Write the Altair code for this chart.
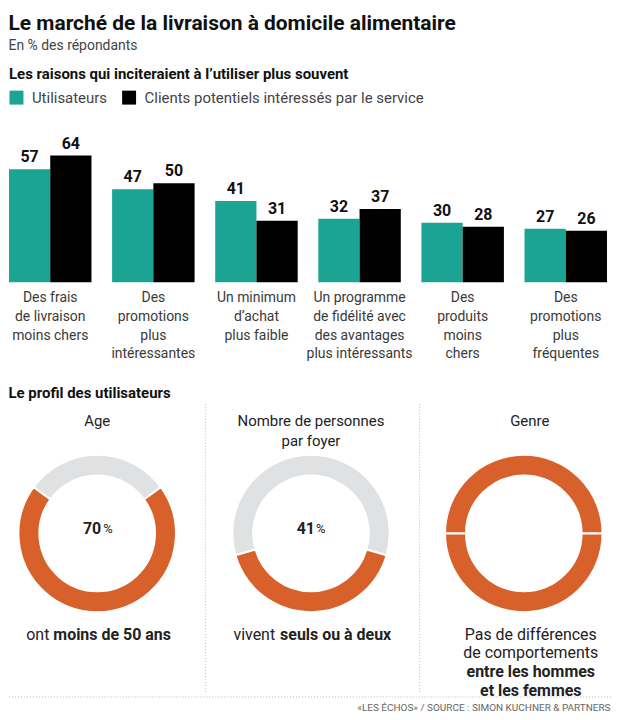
import math
import altair as alt
import pandas as pd

FONT = "Roboto"
TEAL = "#1ba394"
ORANGE = "#d8602a"
GRAY = "#dfe1e3"

# ---- data: bar chart ----
categories = [
    "Des frais|de livraison|moins chers",
    "Des|promotions|plus|intéressantes",
    "Un minimum|d’achat|plus faible",
    "Un programme|de fidélité avec|des avantages|plus intéressants",
    "Des|produits|moins|chers",
    "Des|promotions|plus|fréquentes",
]
series = ["Utilisateurs", "Clients potentiels intéressés par le service"]
users = [57, 47, 41, 32, 30, 27]
potential = [64, 50, 31, 37, 28, 26]

# ---- data: donuts ----
age_parts = ["autres", "moins de 50 ans"]
age_values = [30, 70]
foyer_parts = ["autres", "seuls ou à deux"]
foyer_values = [59, 41]
genre_parts = ["hommes", "femmes"]
genre_values = [50, 50]

panel_titles = ["Age", "Nombre de personnes|par foyer", "Genre"]
center_labels = [("70", "%"), ("41", "%")]
captions = [("ont", "moins de 50 ans"), ("vivent", "seuls ou à deux")]
genre_caption_regular = ["Pas de différences", "de comportements"]
genre_caption_bold = ["entre les hommes", "et les femmes"]
source_text = "«LES ÉCHOS» / SOURCE : SIMON KUCHNER & PARTNERS"

rows = []
for c, u, p in zip(categories, users, potential):
    rows.append({"cat": c, "series": series[0], "value": u})
    rows.append({"cat": c, "series": series[1], "value": p})
bar_df = pd.DataFrame(rows)

base = alt.Chart(bar_df).encode(
    x=alt.X(
        "cat:N",
        sort=categories,
        scale=alt.Scale(paddingInner=0.2, paddingOuter=0),
        axis=alt.Axis(
            title=None, labelExpr="split(datum.label, '|')", ticks=False, domain=False,
            labelAngle=0, labelFontSize=14, labelLineHeight=19, labelPadding=8,
            labelColor="#3a3a3a", labelFont=FONT, labelLimit=300, labelBaseline="top",
        ),
    ),
    xOffset=alt.XOffset("series:N", sort=series, scale=alt.Scale(domain=series, paddingInner=0, paddingOuter=0)),
    y=alt.Y("value:Q", scale=alt.Scale(domain=[0, 80]), axis=None),
)
bars = base.mark_bar().encode(
    color=alt.Color(
        "series:N",
        scale=alt.Scale(domain=series, range=[TEAL, "#000000"]),
        legend=alt.Legend(
            title=None, orient="top", direction="horizontal", symbolType="square",
            symbolSize=196, symbolStrokeWidth=0, symbolOpacity=1, labelFontSize=15,
            labelFont=FONT, labelColor="#444", columnPadding=14, labelOffset=8, offset=18,
            labelLimit=400,
        ),
    )
)
bar_text = base.mark_text(
    baseline="bottom", dy=-4, fontSize=16, fontWeight="bold", font=FONT, color="#111"
).encode(text="value:Q")

bar_chart = alt.layer(bars, bar_text).properties(
    width=600,
    height=159,
    title=alt.TitleParams(
        "Les raisons qui inciteraient à l’utiliser plus souvent", anchor="start",
        fontSize=15, fontWeight="bold", font=FONT, color="#111", offset=8,
    ),
)


def txt(s, dy, dx=0, bold=False, size=15, align="center", color="#222"):
    return alt.Chart(pd.DataFrame({"t": [s]})).mark_text(
        dy=dy, dx=dx, fontSize=size, fontWeight="bold" if bold else "normal",
        font=FONT, align=align, baseline="middle", color=color,
    ).encode(text="t:N")


def donut(parts, values, colors, start):
    df = pd.DataFrame({"part": parts, "value": values, "idx": list(range(len(parts)))})
    return alt.Chart(df).mark_arc(
        innerRadius=58, outerRadius=79, stroke="white", strokeWidth=2
    ).encode(
        theta=alt.Theta("value:Q", stack=True,
                        scale=alt.Scale(range=[start, start + 2 * math.pi])),
        color=alt.Color("part:N", scale=alt.Scale(domain=parts, range=colors), legend=None),
        order=alt.Order("idx:Q"),
    )


H = 260
dots = dict(color="#bbbbbb", strokeDash=[1, 2], strokeWidth=1)

# panel 1: Age
p1_layers = [
    donut(age_parts, age_values, [GRAY, ORANGE], -math.pi * age_values[0] / 100),
    txt(panel_titles[0], -113),
    txt(center_labels[0][0], -4, dx=4, bold=True, size=16, align="right"),
    txt(center_labels[0][1], -4, dx=6, size=13, align="left"),
    txt(captions[0][0], 102, dx=-48, size=16, align="right"),
    txt(captions[0][1], 102, dx=-44, bold=True, size=16, align="left"),
    alt.Chart(pd.DataFrame({"a": [0]})).mark_rule(**dots).encode(
        x=alt.value(0), x2=alt.value(604), y=alt.value(294)),
]
p1 = alt.layer(*p1_layers).properties(width=177, height=H)

# panel 2: foyer
t2 = panel_titles[1].split("|")
p2_layers = [
    donut(foyer_parts, foyer_values, [GRAY, ORANGE], -math.pi * foyer_values[0] / 100),
    txt(t2[0], -113),
    txt(t2[1], -93),
    txt(center_labels[1][0], -4, dx=4, bold=True, size=16, align="right"),
    txt(center_labels[1][1], -4, dx=5, size=13, align="left"),
    txt(captions[1][0], 102, dx=-36, size=16, align="right"),
    txt(captions[1][1], 102, dx=-31, bold=True, size=16, align="left"),
    alt.Chart(pd.DataFrame({"a": [0]})).mark_rule(**dots).encode(
        x=alt.value(20), y=alt.value(0), y2=alt.value(290)),
    alt.Chart(pd.DataFrame({"a": [0]})).mark_rule(**dots).encode(
        x=alt.value(235), y=alt.value(0), y2=alt.value(290)),
]
p2 = alt.layer(*p2_layers).properties(width=252, height=H)

# panel 3: genre
p3_layers = [
    donut(genre_parts, genre_values, [ORANGE, ORANGE], -math.pi / 2),
    txt(panel_titles[2], -113, dx=6),
    txt(genre_caption_regular[0], 102, dx=7, size=16),
    txt(genre_caption_regular[1], 120, dx=7, size=16),
    txt(genre_caption_bold[0], 139, dx=7, bold=True, size=16),
    txt(genre_caption_bold[1], 158, dx=7, bold=True, size=16),
    txt(source_text, 175, dx=87, size=10, align="right", color="#666"),
]
p3 = alt.layer(*p3_layers).properties(width=175, height=H)

profile = alt.hconcat(p1, p2, p3, spacing=0, bounds="flush").resolve_scale(
    color="independent", theta="independent"
).properties(
    title=alt.TitleParams(
        "Le profil des utilisateurs", anchor="start", fontSize=15, fontWeight="bold",
        font=FONT, color="#111", offset=2,
    )
)

chart = alt.vconcat(bar_chart, profile, spacing=25).resolve_scale(
    color="independent", theta="independent"
).properties(
    padding={"left": 0, "top": 4, "right": 0, "bottom": 0},
    background="white",
    title=alt.TitleParams(
        "Le marché de la livraison à domicile alimentaire",
        subtitle="En % des répondants", anchor="start", fontSize=21, fontWeight="bold",
        font=FONT, color="#111", subtitleFont=FONT, subtitleFontSize=14,
        subtitleColor="#444", subtitlePadding=5, offset=14,
    ),
).configure_view(stroke="transparent", strokeWidth=0)

chart.save("out.html", embed_options={"renderer": "svg", "actions": False})
